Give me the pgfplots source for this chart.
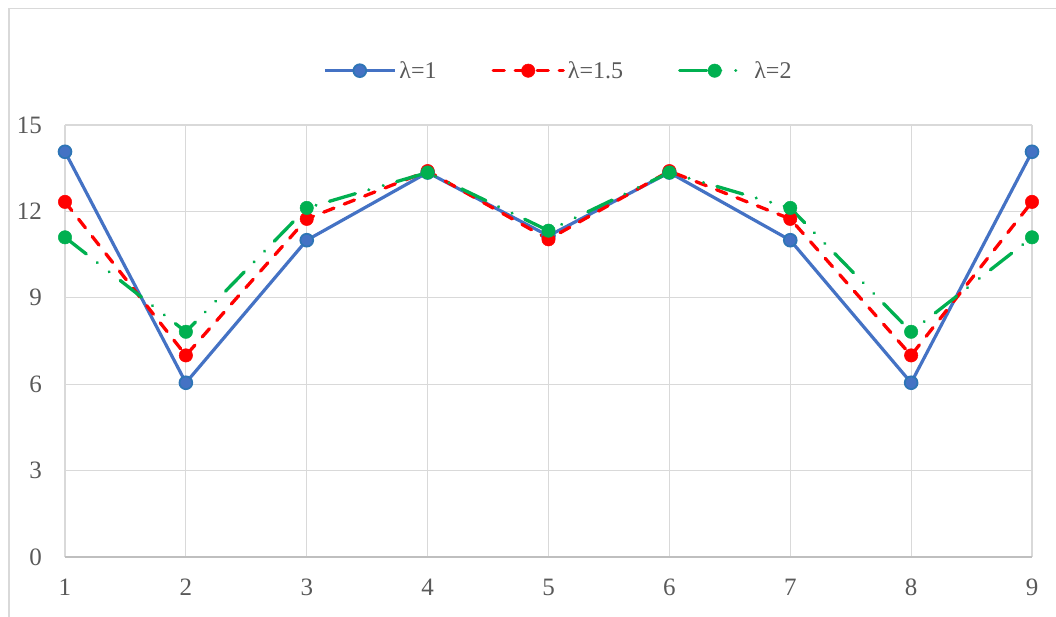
\documentclass[border=0pt]{standalone}
\usepackage{pgfplots}
\pgfplotsset{compat=1.18}
\usepackage{fontspec}
\setmainfont{Liberation Serif}
\definecolor{xlblue}{HTML}{4472C4}
\definecolor{xlblueedge}{HTML}{2E75B6}
\definecolor{xlred}{HTML}{FF0000}
\definecolor{xlgreen}{HTML}{00B050}
\definecolor{gridc}{HTML}{D9D9D9}
\definecolor{axc}{HTML}{BFBFBF}
\definecolor{txt}{HTML}{595959}
\begin{document}
\begin{tikzpicture}[x=1pt,y=1pt]
\useasboundingbox (0,0) rectangle (1056,616);
\draw[gridc, line width=1.5pt] (8.75,-10) -- (8.75,607.25) -- (1070,607.25);
\begin{axis}[
  at={(65pt,59pt)}, anchor=south west,
  scale only axis, width=967pt, height=432pt,
  xmin=1, xmax=9, ymin=0, ymax=15,
  xtick={1,...,9}, ytick={0,3,...,15},
  clip=false,
  axis line style={draw=none},
  tick style={draw=none},
  major tick length=0pt,
  grid=major,
  major grid style={gridc, line width=1.2pt},
  /pgf/number format/assume math mode=true,
  tick label style={font=\fontsize{25}{30}\selectfont, text=txt, inner sep=0pt},
  yticklabel style={anchor=east, xshift=-23pt},
  xticklabel style={anchor=north, yshift=-22pt},
  legend columns=3,
  legend style={at={(rel axis cs:0.2637,1.1257)}, anchor=west, draw=none, fill=none,
    font=\fontsize{24}{28}\selectfont, text=txt,
    nodes={inner ysep=0pt, inner xsep=3pt}},
  legend cell align=left,
  legend image code/.code={\draw[mark repeat=2,mark phase=2,#1] plot coordinates {(0pt,0pt) (35pt,0pt) (70pt,0pt)};},
]
\addplot[xlblue, line width=3.2pt, mark=*, mark size=6.4pt,
  mark options={solid, fill=xlblue, draw=xlblueedge, line width=1.8pt}]
  coordinates {(1,14.07) (2,6.05) (3,11.0) (4,13.35) (5,11.15) (6,13.35) (7,11.0) (8,6.05) (9,14.07)};
\addlegendentry{λ=1\hspace*{52pt}}
\addplot[xlred, line width=3.3pt, line cap=round, dash pattern=on 11pt off 11pt, mark=*, mark size=6.7pt,
  mark options={solid, fill=xlred, draw=xlred, line width=0.5pt}]
  coordinates {(1,12.33) (2,7.0) (3,11.74) (4,13.4) (5,11.03) (6,13.4) (7,11.74) (8,7.0) (9,12.33)};
\addlegendentry{λ=1.5\hspace*{52pt}}
\addplot[xlgreen, line width=3.3pt, line cap=round, dash pattern=on 27pt off 14pt on 0.01pt off 15pt on 0.01pt off 14pt, mark=*, mark size=6.7pt,
  mark options={solid, fill=xlgreen, draw=xlgreen, line width=0.5pt}]
  coordinates {(1,11.1) (2,7.82) (3,12.12) (4,13.35) (5,11.33) (6,13.35) (7,12.12) (8,7.82) (9,11.1)};
\addlegendentry{λ=2}
\draw[axc, line width=1.2pt] (axis cs:1,0) -- (axis cs:9,0);
\end{axis}
\end{tikzpicture}
\end{document}
